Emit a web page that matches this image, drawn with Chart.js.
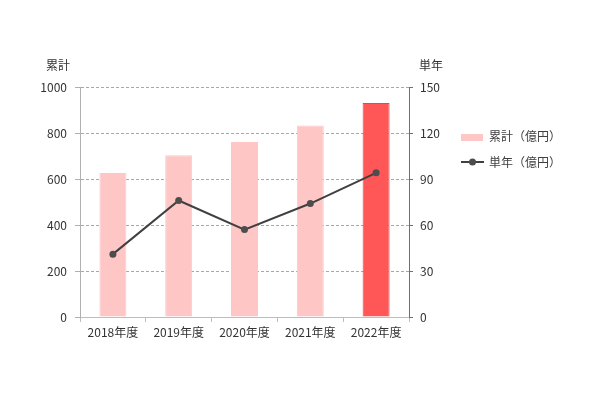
<!DOCTYPE html>
<html lang="ja">
<head>
<meta charset="utf-8">
<script src="https://cdn.jsdelivr.net/npm/chart.js@4/dist/chart.umd.min.js"></script>
<style>
    html, body { margin: 0; padding: 0; background: #fff; }
    #wrap { width: 592px; height: 394px; }
</style>
</head>
<body>
<div id="wrap"><canvas id="chart" width="592" height="394"></canvas></div>
<script>
// --- data ---
var years = ['2018年度', '2019年度', '2020年度', '2021年度', '2022年度'];
var cumulative = [626, 703, 761, 833, 930];   // 累計（億円）
var annual = [41, 76, 57, 74, 94];            // 単年（億円）
var leftRange = [0, 1000, 200];
var rightRange = [0, 150, 30];
var axisTitles = ['累計', '単年'];
var seriesNames = ['累計（億円）', '単年（億円）'];

var FONT = '"Noto Sans CJK JP", "Noto Sans", sans-serif';
var pink = '#ffc6c6';
var red = '#ff5757';

var barColors = cumulative.map(function (v, i) { return i === cumulative.length - 1 ? red : pink; });
var barBorders = cumulative.map(function (v, i) { return i === cumulative.length - 1 ? '#e84545' : pink; });

// axis titles + legend drawn on the canvas
var extras = {
    id: 'extras',
    afterDraw: function (chart) {
        var ctx = chart.ctx;
        ctx.save();
        ctx.font = '12px ' + FONT;
        ctx.fillStyle = '#333';
        ctx.textAlign = 'center';
        ctx.textBaseline = 'middle';
        ctx.fillText(axisTitles[0], 58, 65);
        ctx.fillText(axisTitles[1], 431, 65);

        // legend
        var lx = 461;
        ctx.textAlign = 'left';
        ctx.fillStyle = pink;
        ctx.fillRect(lx, 134, 22, 7);
        ctx.fillStyle = '#404040';
        ctx.fillText(seriesNames[0], 489, 136);

        ctx.strokeStyle = '#404040';
        ctx.lineWidth = 2;
        ctx.beginPath();
        ctx.moveTo(lx, 162);
        ctx.lineTo(lx + 23, 162);
        ctx.stroke();
        ctx.fillStyle = '#4d4d4d';
        ctx.beginPath();
        ctx.arc(lx + 11.5, 162, 3.5, 0, Math.PI * 2);
        ctx.fill();
        ctx.fillStyle = '#404040';
        ctx.fillText(seriesNames[1], 489, 162);
        ctx.restore();
    }
};

new Chart(document.getElementById('chart').getContext('2d'), {
    type: 'bar',
    data: {
        labels: years,
        datasets: [{
            type: 'line',
            label: seriesNames[1],
            data: annual,
            yAxisID: 'y1',
            order: 1,
            borderColor: '#404040',
            borderWidth: 2,
            pointRadius: 3.5,
            pointBackgroundColor: '#4d4d4d',
            pointBorderColor: '#4d4d4d',
            pointBorderWidth: 0,
            tension: 0
        }, {
            type: 'bar',
            label: seriesNames[0],
            data: cumulative,
            yAxisID: 'y',
            order: 2,
            backgroundColor: barColors,
            borderColor: barBorders,
            borderWidth: 1,
            barPercentage: 0.41,
            categoryPercentage: 1
        }]
    },
    options: {
        responsive: false,
        animation: false,
        layout: { padding: { left: 0, right: 143, top: 87, bottom: 46 } },
        plugins: {
            legend: { display: false },
            tooltip: { enabled: false }
        },
        scales: {
            x: {
                grid: { drawOnChartArea: false, tickLength: 5, tickColor: '#bdbdbd', offset: true },
                border: { color: '#bdbdbd' },
                ticks: { font: { family: FONT, size: 12 }, color: '#333', padding: 3 },
                afterFit: function (s) { s.height = 31; }
            },
            y: {
                position: 'left',
                min: leftRange[0], max: leftRange[1],
                ticks: {
                    stepSize: leftRange[2], font: { family: FONT, size: 12 }, color: '#333', padding: 8,
                    callback: function (v) { return String(v); }
                },
                grid: { color: '#a8a8a8', tickLength: 5, tickColor: '#b0b0b0', tickBorderDash: [] },
                border: { color: '#b0b0b0', dash: [3, 2] },
                afterFit: function (s) { s.width = 80; }
            },
            y1: {
                position: 'right',
                min: rightRange[0], max: rightRange[1],
                ticks: { stepSize: rightRange[2], font: { family: FONT, size: 12 }, color: '#333', padding: 7 },
                grid: { drawOnChartArea: false, tickLength: 4, tickColor: '#707070' },
                border: { color: '#707070' },
                afterFit: function (s) { s.width = 40; }
            }
        }
    },
    plugins: [extras]
});
</script>
</body>
</html>
